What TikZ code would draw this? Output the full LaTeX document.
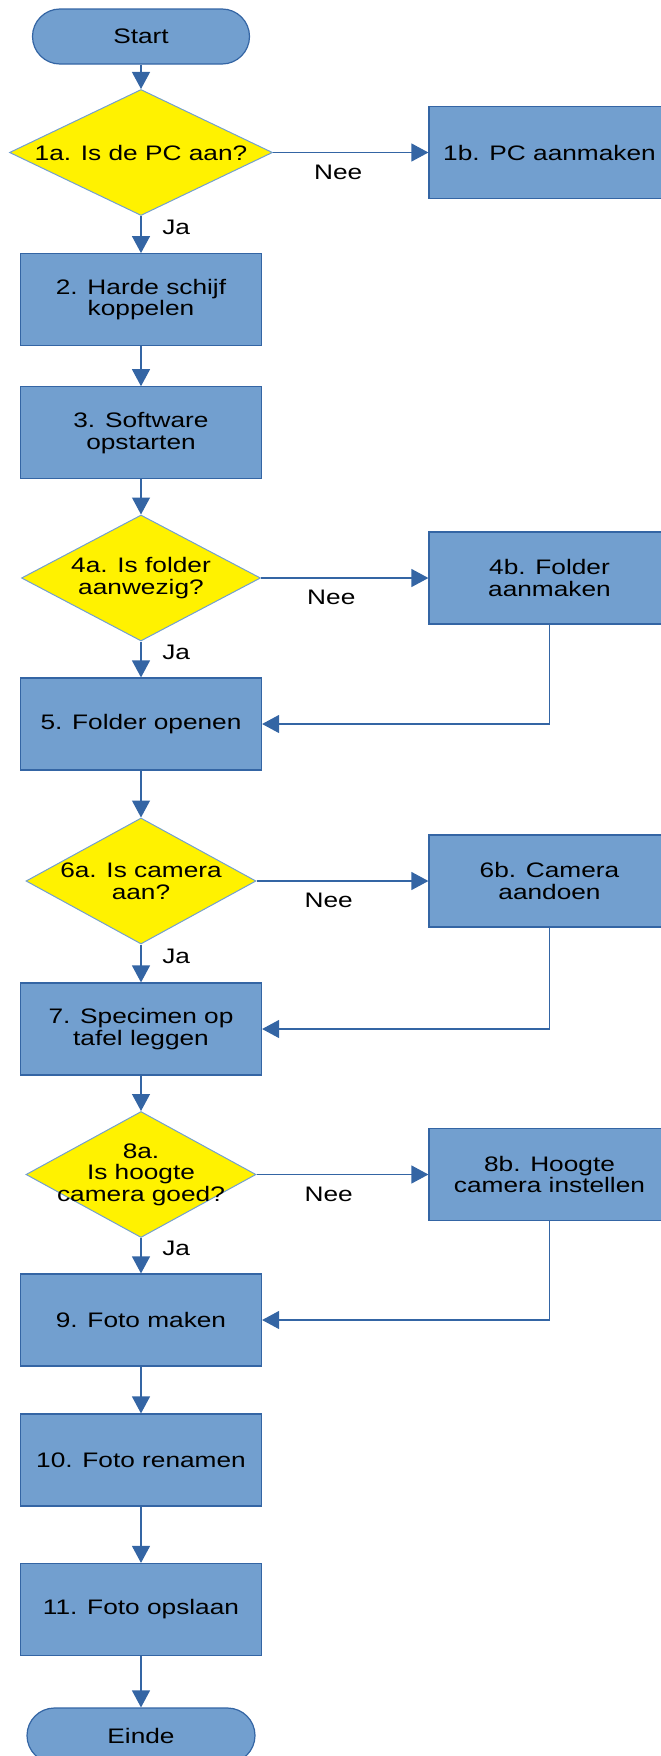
\documentclass[tikz,border=0pt]{standalone}
\usepackage{fontspec}
\setmainfont{Liberation Sans}[FakeStretch=1.25]
\usetikzlibrary{shapes.geometric,arrows.meta,positioning}

\definecolor{boxblue}{HTML}{729FCF}
\definecolor{lineblue}{HTML}{3465A4}

\begin{document}
\begin{tikzpicture}[%
    >={Triangle[length=8.5pt,width=9pt]}, % Filled heads like the office export
    on grid,                              % Distances are centre to centre
    node distance=73pt and 204.25pt,      % Global setup of box spacing
    every node/.style={font=\fontsize{10.5}{10.8}\selectfont},
    ]
% -------------------------------------------------
% A few box styles
\tikzset{
  base/.style={draw, align=center, text=black},
  proc/.style={base, rectangle, fill=boxblue, draw=lineblue, line width=0.6pt,
    minimum width=120.5pt, minimum height=46pt, inner sep=0pt},
  test/.style={base, diamond, fill=yellow, draw=boxblue, line width=0.5pt,
    minimum width=115pt, minimum height=63pt, inner xsep=-30pt, inner ysep=-15pt},
  term/.style={proc, rounded corners=13.75pt, minimum width=108.5pt, minimum height=27.5pt},
  % lbl node style is used for the yes/no marks on the connectors
  lbl/.style={text=black},
  % -------------------------------------------------
  % Connector line style
  norm/.style={->, draw=lineblue, line width=0.6pt}
}
\useasboundingbox (0,0) rectangle (330pt,-878pt);
% -------------------------------------------------
% Place the nodes
\node [term] (start) at (70.5pt,-18.25pt) {Start};
\node [test, minimum width=131.5pt, below=58pt of start] (t1) {1a. Is de PC aan?};
\node [proc, below=73.6pt of t1] (p2) {2. Harde schijf\\koppelen};
\node [proc, below=66.55pt of p2] (p3) {3. Software\\opstarten};
\node [test, minimum width=119.5pt, below=72.6pt of p3] (t4) {4a. Is folder\\aanwezig?};
\node [proc, below=of t4] (p5) {5. Folder openen};
\node [test, below=78.5pt of p5] (t6) {6a. Is camera\\aan?};
\node [proc, below=74pt of t6] (p7) {7. Specimen op\\tafel leggen};
\node [test, below=72.75pt of p7] (t8) {8a.\\Is hoogte\\camera goed?};
\node [proc, below=72.75pt of t8] (p9) {9. Foto maken};
\node [proc, below=70pt of p9] (p10) {10. Foto renamen};
\node [proc, below=74.75pt of p10] (p11) {11. Foto opslaan};
\node [term, minimum width=114pt, below=63pt of p11] (stop) {Einde};

% Side nodes
\node [proc, right=of t1] (p1b) {1b. PC aanmaken};
\node [proc, right=of t4] (p4b) {4b. Folder\\aanmaken};
\node [proc, right=of t6] (p6b) {6b. Camera\\aandoen};
\node [proc, right=of t8] (p8b) {8b. Hoogte\\camera instellen};

% Simple top/bottom connections
\draw [norm] (start) -- (t1);
\draw [norm] (t1) -- node [lbl, right=7pt, pos=0.3] {Ja} (p2);
\draw [norm] (p2) -- (p3);
\draw [norm] (p3) -- (t4);
\draw [norm] (t4) -- node [lbl, right=7pt, pos=0.3] {Ja} (p5);
\draw [norm] (p5) -- (t6);
\draw [norm] (t6) -- node [lbl, right=7pt, pos=0.3] {Ja} (p7);
\draw [norm] (p7) -- (t8);
\draw [norm] (t8) -- node [lbl, right=7pt, pos=0.3] {Ja} (p9);
\draw [norm] (p9) -- (p10);
\draw [norm] (p10) -- (p11);
\draw [norm] (p11) -- (stop);

% Simple left/right connections
\draw [norm] (t1) -- node [lbl, below=2.5pt, pos=0.42] {Nee} (p1b);
\draw [norm] (t4) -- node [lbl, below=2.5pt, pos=0.42] {Nee} (p4b);
\draw [norm] (t6) -- node [lbl, below=2.5pt, pos=0.42] {Nee} (p6b);
\draw [norm] (t8) -- node [lbl, below=2.5pt, pos=0.42] {Nee} (p8b);

% Corner paths
\draw [norm] (p4b) |- (p5);
\draw [norm] (p6b) |- (p7);
\draw [norm] (p8b) |- (p9);

\end{tikzpicture}
\end{document}
